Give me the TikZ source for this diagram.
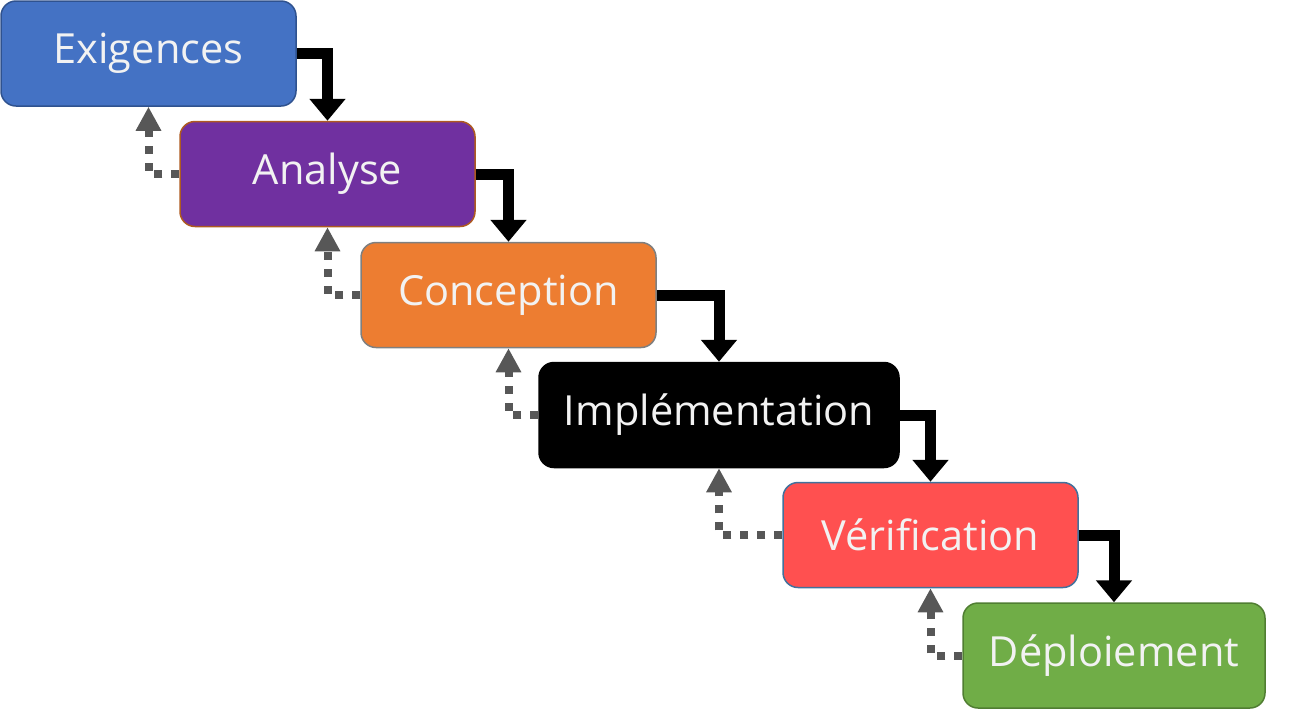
\documentclass[tikz,border=0pt]{standalone}
\usepackage{fontspec}
\setmainfont{Open Sans}
\usetikzlibrary{arrows.meta}
\definecolor{cBlue}{HTML}{4472C4}
\definecolor{cBlueB}{HTML}{2F528F}
\definecolor{cPurple}{HTML}{7030A0}
\definecolor{cPurpleB}{HTML}{AE5A21}
\definecolor{cOrange}{HTML}{ED7D31}
\definecolor{cOrangeB}{HTML}{7F7F7F}
\definecolor{cRed}{HTML}{FF5050}
\definecolor{cRedB}{HTML}{41719C}
\definecolor{cGreen}{HTML}{70AD47}
\definecolor{cGreenB}{HTML}{507E32}
\definecolor{cGrey}{HTML}{575757}
\definecolor{cText}{HTML}{F2F2F2}
\begin{document}
\begin{tikzpicture}[x=1pt,y=-1pt,
  phase/.style={rectangle, rounded corners=15pt, line width=1.5pt, inner sep=0pt,
    minimum width=295pt, minimum height=105pt, text=cText,
    font=\fontsize{41.5}{50}\selectfont},
  fwd/.style={line width=11pt, draw=black, -{Triangle[width=35pt,length=22pt]}},
  back/.style={line width=8pt, draw=cGrey, dash pattern=on 8pt off 9pt,
    -{Triangle[width=24pt,length=24pt]}}
]
\useasboundingbox (0,0) rectangle (1302,710);
\node[phase, fill=cBlue, draw=cBlueB] (a) at (148.5,53.5) {Exigences};
\node[phase, fill=cPurple, draw=cPurpleB] (b) at (327.5,174) {Analyse};
\node[phase, fill=cOrange, draw=cOrangeB] (c) at (508.5,295) {Conception};
\node[phase, fill=black, draw=black, minimum width=360pt] (d) at (719,415) {Implémentation};
\node[phase, fill=cRed, draw=cRedB] (e) at (930.5,535) {Vérification};
\node[phase, fill=cGreen, draw=cGreenB, minimum width=302pt] (f) at (1114,655.5) {Déploiement};
\draw[fwd] (a.east) -| (b.north);
\draw[fwd] (b.east) -| (c.north);
\draw[fwd] (c.east) -| (d.north);
\draw[fwd] (d.east) -| (e.north);
\draw[fwd] (e.east) -| (f.north);
\draw[back] (b.west) -| (a.south);
\draw[back] (c.west) -| (b.south);
\draw[back] (d.west) -| (c.south);
\draw[back] (e.west) -| (d.south);
\draw[back] (f.west) -| (e.south);
\end{tikzpicture}
\end{document}
